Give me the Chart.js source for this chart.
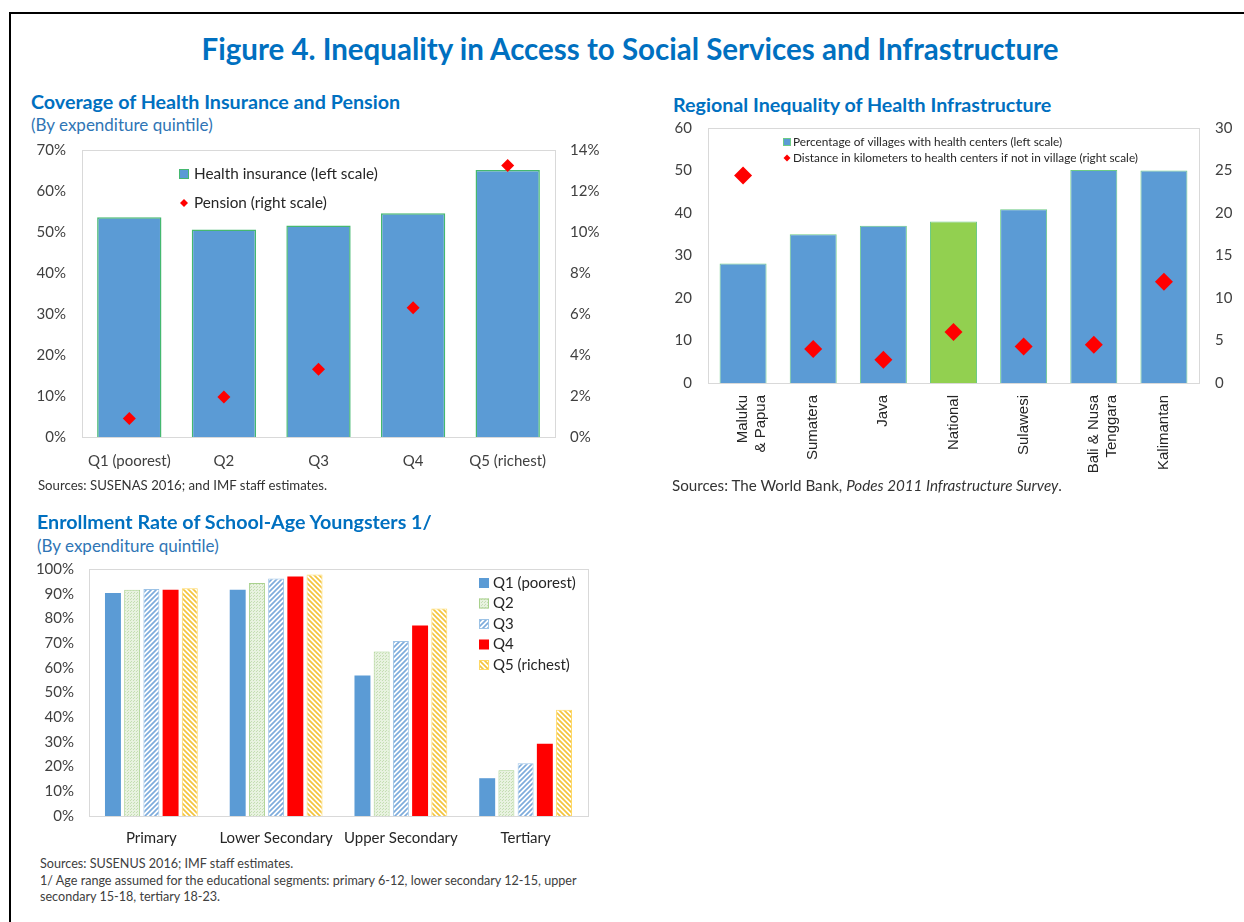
<!DOCTYPE html>
<html>
<head>
<meta charset="utf-8">
<title>Figure 4</title>
<script src="https://cdn.jsdelivr.net/npm/chart.js@4.4.1/dist/chart.umd.min.js"></script>
<style>
  body { margin: 0; width: 1244px; height: 922px; background: #fff; position: relative; overflow: hidden; font-family: Lato, "Liberation Sans", sans-serif; }
  .frame { position: absolute; left: 9px; top: 12px; width: 1300px; height: 1000px; border-top: 2px solid #000; border-left: 2px solid #000; }
  .txt { position: absolute; white-space: nowrap; }
  .fig-title { left: 16px; width: 1228px; text-align: center; top: 31px; font-size: 29.5px; line-height: 36px; font-weight: bold; color: #0070C0; }
  .ch-title { font-size: 19.7px; line-height: 24px; font-weight: bold; color: #0070C0; }
  .ch-sub { font-size: 17px; line-height: 20px; color: #2F75B5; }
  .src { font-size: 13.2px; line-height: 16px; color: #333; }
  canvas { position: absolute; }
</style>
</head>
<body>
<div class="frame"></div>
<div class="txt fig-title">Figure 4. Inequality in Access to Social Services and Infrastructure</div>

<div class="txt ch-title" style="left:31px;top:90px">Coverage of Health Insurance and Pension</div>
<div class="txt ch-sub" style="left:31px;top:115px">(By expenditure quintile)</div>
<canvas id="coverage" width="600" height="350" style="left:20px;top:138px"></canvas>
<div class="txt src" style="left:38px;top:477px">Sources: SUSENAS 2016; and IMF staff estimates.</div>

<div class="txt ch-title" style="left:673px;top:93px">Regional Inequality of Health Infrastructure</div>
<canvas id="regional" width="614" height="360" style="left:630px;top:118px"></canvas>
<div class="txt src" style="left:672px;top:476px;font-size:15.2px;line-height:18px">Sources: The World Bank, <i>Podes 2011 Infrastructure Survey</i>.</div>

<div class="txt ch-title" style="left:37px;top:510px">Enrollment Rate of School-Age Youngsters 1/</div>
<div class="txt ch-sub" style="left:37px;top:536px">(By expenditure quintile)</div>
<canvas id="enrollment" width="600" height="300" style="left:20px;top:556px"></canvas>
<div class="txt src" style="left:40px;top:856px;font-size:12.6px;line-height:16.5px;color:#404040">Sources: SUSENUS 2016; IMF staff estimates.<br>1/ Age range assumed for the educational segments: primary 6-12, lower secondary 12-15, upper<br>secondary 15-18, tertiary 18-23.</div>

<script>
// coverage by expenditure quintile (percent)
const quintiles = ['Q1 (poorest)', 'Q2', 'Q3', 'Q4', 'Q5 (richest)'];
const healthInsurance = [53.6, 50.6, 51.6, 54.6, 65.1];
const pension = [0.9, 1.95, 3.3, 6.3, 13.25];

// health infrastructure by region
const regions = [['Maluku', '& Papua'], 'Sumatera', 'Java', 'National', 'Sulawesi', ['Bali & Nusa', 'Tenggara'], 'Kalimantan'];
const villagesWithCenters = [28.1, 35, 37, 38, 40.9, 50.1, 50];
const distanceKm = [24.4, 4.0, 2.75, 6.0, 4.3, 4.5, 11.9];

// enrollment rate by school level and quintile (percent)
const levels = ['Primary', 'Lower Secondary', 'Upper Secondary', 'Tertiary'];
const enrollQ1 = [90.3, 91.6, 56.9, 15.3];
const enrollQ2 = [91.6, 94.3, 66.6, 18.5];
const enrollQ3 = [91.9, 96.2, 70.8, 21.4];
const enrollQ4 = [91.6, 97.0, 77.1, 29.3];
const enrollQ5 = [92.2, 97.8, 84.0, 43.0];

// axis ranges: min, max, step
const coverageLeft = [0, 70, 10];
const coverageRight = [0, 14, 2];
const regionalLeft = [0, 60, 10];
const regionalRight = [0, 30, 5];
const enrollAxis = [0, 100, 10];

const BLUE = '#5B9BD5';
const GREEN = '#92D050';
const RED = '#FF0000';

Chart.defaults.font.family = "Lato, 'Liberation Sans', sans-serif";
Chart.defaults.color = '#404040';
Chart.defaults.animation = false;
Chart.defaults.plugins.legend.display = false;
Chart.defaults.plugins.tooltip.enabled = false;

// light grey box round the plot area
const plotFrame = {
    id: 'plotFrame',
    beforeDatasetsDraw(chart) {
        const ctx = chart.ctx, a = chart.chartArea;
        ctx.save();
        ctx.strokeStyle = '#D9D9D9';
        ctx.lineWidth = 1;
        ctx.strokeRect(Math.round(a.left) + 0.5, Math.round(a.top) + 0.5, Math.round(a.width), Math.round(a.height));
        ctx.restore();
    }
};

// legend at a fixed spot inside the plot
const fixedLegend = {
    id: 'fixedLegend',
    afterDraw(chart, args, o) {
        const ctx = chart.ctx;
        ctx.save();
        ctx.font = o.font;
        ctx.textBaseline = 'middle';
        chart.data.datasets.forEach(function (ds, i) {
            const y = o.y + i * o.gap;
            const fill = Array.isArray(ds.backgroundColor) ? ds.backgroundColor[0] : ds.backgroundColor;
            if (ds.type === 'line') {
                ctx.fillStyle = ds.pointBackgroundColor;
                Chart.helpers.drawPoint(ctx, {pointStyle: 'rectRot', rotation: 0, radius: o.diamond, borderWidth: 0}, o.x + o.box / 2, y);
            } else {
                ctx.fillStyle = fill;
                ctx.fillRect(o.x, y - o.box / 2, o.box, o.box);
                if (ds.borderWidth) {
                    ctx.strokeStyle = Array.isArray(ds.borderColor) ? ds.borderColor[0] : ds.borderColor;
                    ctx.lineWidth = 1;
                    ctx.strokeRect(o.x + 0.5, y - o.box / 2 + 0.5, o.box - 1, o.box - 1);
                }
            }
            ctx.fillStyle = o.color;
            ctx.fillText(ds.label, o.textX, y);
        });
        ctx.restore();
    }
};

function stripes(bg, fg, rising) {
    const s = 5;
    const c = document.createElement('canvas');
    c.width = c.height = s;
    const g = c.getContext('2d');
    g.fillStyle = bg;
    g.fillRect(0, 0, s, s);
    g.strokeStyle = fg;
    g.lineWidth = 1.7;
    g.beginPath();
    if (rising) {
        g.moveTo(0, s); g.lineTo(s, 0);
        g.moveTo(-1, 1); g.lineTo(1, -1);
        g.moveTo(s - 1, s + 1); g.lineTo(s + 1, s - 1);
    } else {
        g.moveTo(0, 0); g.lineTo(s, s);
        g.moveTo(-1, s - 1); g.lineTo(1, s + 1);
        g.moveTo(s - 1, -1); g.lineTo(s + 1, 1);
    }
    g.stroke();
    return g.createPattern(c, 'repeat');
}

function dots(bg, fg) {
    const c = document.createElement('canvas');
    c.width = c.height = 3;
    const g = c.getContext('2d');
    g.fillStyle = bg;
    g.fillRect(0, 0, 3, 3);
    g.fillStyle = fg;
    g.fillRect(0, 0, 1, 1);
    g.fillRect(2, 1, 1, 1);
    return g.createPattern(c, 'repeat');
}

const noGrid = {display: false, drawTicks: false};

function axis(pos, range, width, padding, fmt, size) {
    return {
        position: pos, min: range[0], max: range[1],
        ticks: {stepSize: range[2], padding: padding, font: {size: size}, callback: fmt},
        grid: noGrid, border: {display: false},
        afterFit: function (s) {
            s.width = width;
            // the layout padding already leaves room for the end labels
            s.paddingTop = 0;
            s.paddingBottom = 0;
        }
    };
}
const pct = v => v + '%';
const num = v => v;

// coverage of health insurance and pension
new Chart(document.getElementById('coverage'), {
    type: 'bar',
    data: {
        labels: quintiles,
        datasets: [{
            label: 'Health insurance (left scale)',
            data: healthInsurance,
            backgroundColor: BLUE,
            borderColor: '#45B870',
            borderWidth: 1.5,
            barPercentage: 0.68,
            categoryPercentage: 1,
            yAxisID: 'y',
            order: 1
        }, {
            type: 'line',
            label: 'Pension (right scale)',
            data: pension,
            showLine: false,
            pointStyle: 'rectRot',
            pointRadius: 6.5,
            pointBackgroundColor: RED,
            pointBorderWidth: 0,
            yAxisID: 'y1',
            order: 0
        }]
    },
    options: {
        responsive: false,
        layout: {padding: {top: 12}},
        scales: {
            x: {
                grid: noGrid, border: {display: false},
                ticks: {padding: 15, font: {size: 15}},
                afterFit: function (s) { s.height = 51; }
            },
            y: axis('left', coverageLeft, 62, 16, pct, 15),
            y1: axis('right', coverageRight, 65, 15, pct, 15)
        },
        plugins: {
            fixedLegend: {x: 159, y: 36, gap: 29, box: 10, diamond: 4, textX: 174, font: "15.3px Lato, 'Liberation Sans', sans-serif", color: '#262626'}
        }
    },
    plugins: [plotFrame, fixedLegend]
});

// health infrastructure by region
new Chart(document.getElementById('regional'), {
    type: 'bar',
    data: {
        labels: regions,
        datasets: [{
            label: 'Percentage of villages with health centers (left scale)',
            data: villagesWithCenters,
            backgroundColor: regions.map(r => r === 'National' ? GREEN : BLUE),
            borderColor: '#6CCB86',
            borderWidth: 1,
            barPercentage: 0.67,
            categoryPercentage: 1,
            yAxisID: 'y',
            order: 1
        }, {
            type: 'line',
            label: 'Distance in kilometers to health centers if not in village (right scale)',
            data: distanceKm,
            showLine: false,
            pointStyle: 'rectRot',
            pointRadius: 9,
            pointBackgroundColor: RED,
            pointBorderWidth: 0,
            yAxisID: 'y1',
            order: 0
        }]
    },
    options: {
        responsive: false,
        layout: {padding: {top: 10}},
        scales: {
            x: {
                grid: noGrid, border: {display: false},
                ticks: {padding: 12, minRotation: 90, maxRotation: 90, autoSkip: false, color: '#262626',
                        font: {family: "'Liberation Sans', Arial, sans-serif", size: 15}},
                afterFit: function (s) { s.height = 95; }
            },
            y: axis('left', regionalLeft, 78, 16, num, 15),
            y1: axis('right', regionalRight, 45, 16, num, 15)
        },
        plugins: {
            fixedLegend: {x: 153, y: 24, gap: 16, box: 8, diamond: 3.5, textX: 163, font: "11.8px Lato, 'Liberation Sans', sans-serif", color: '#262626'}
        }
    },
    plugins: [plotFrame, fixedLegend]
});

// enrollment rate of school-age youngsters
const enrollSeries = [
    {label: 'Q1 (poorest)', data: enrollQ1, backgroundColor: BLUE, borderWidth: 0},
    {label: 'Q2', data: enrollQ2, backgroundColor: dots('#E8F2E0', '#C4DEB2'), borderColor: '#A9D18E', borderWidth: 1},
    {label: 'Q3', data: enrollQ3, backgroundColor: stripes('#FFFFFF', '#7EACDC', true), borderColor: '#9DC3E6', borderWidth: 1},
    {label: 'Q4', data: enrollQ4, backgroundColor: RED, borderWidth: 0},
    {label: 'Q5 (richest)', data: enrollQ5, backgroundColor: stripes('#FFFFFF', '#F4C53E', false), borderColor: '#FFD966', borderWidth: 1}
];

new Chart(document.getElementById('enrollment'), {
    type: 'bar',
    data: {labels: levels, datasets: enrollSeries},
    options: {
        responsive: false,
        layout: {padding: {top: 13, right: 32}},
        datasets: {bar: {barPercentage: 0.83, categoryPercentage: 0.77}},
        scales: {
            x: {
                grid: noGrid, border: {display: false},
                ticks: {padding: 13, font: {size: 15}, color: '#262626'},
                afterFit: function (s) { s.height = 40; }
            },
            y: axis('left', enrollAxis, 69, 15, pct, 15)
        },
        plugins: {
            fixedLegend: {x: 459, y: 27, gap: 20.5, box: 10, diamond: 4, textX: 473, font: "15px Lato, 'Liberation Sans', sans-serif", color: '#262626'}
        }
    },
    plugins: [plotFrame, fixedLegend]
});
</script>
</body>
</html>
